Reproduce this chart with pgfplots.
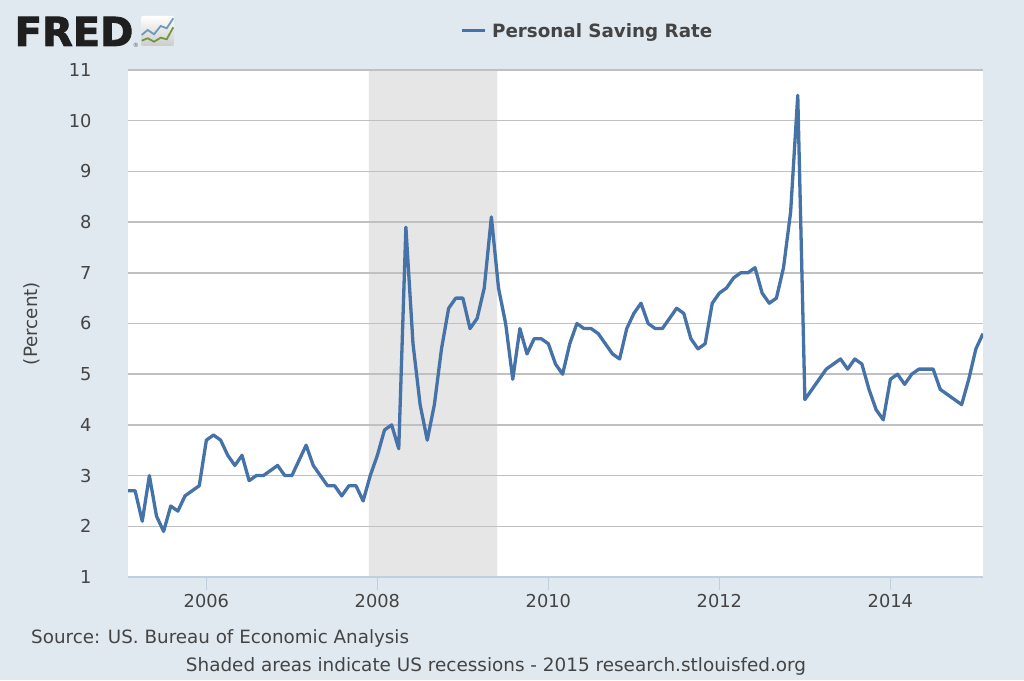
\documentclass[border=0pt]{standalone}
\usepackage{pgfplots}
\pgfplotsset{compat=1.18}
\usepackage{pgfplotstable}
\usepackage{fontspec}
\setmainfont{DejaVu Sans}
\newfontfamily\fredfont[FakeBold=2.2]{DejaVu Sans Bold}
\definecolor{bgc}{HTML}{E1E9F0}
\definecolor{linec}{HTML}{4572A7}
\definecolor{gridc}{HTML}{C0C0C0}
\definecolor{axisc}{HTML}{C0D0E0}
\definecolor{shadec}{HTML}{E6E6E6}
\definecolor{textc}{HTML}{444444}
\definecolor{logob}{HTML}{6F9BB8}
\definecolor{logog}{HTML}{6E9A3C}
\pgfplotstableread{
i v
0 2.7
1 2.7
2 2.1
3 3.0
4 2.2
5 1.9
6 2.4
7 2.3
8 2.6
9 2.7
10 2.8
11 3.7
12 3.8
13 3.7
14 3.4
15 3.2
16 3.4
17 2.9
18 3.0
19 3.0
20 3.1
21 3.2
22 3.0
23 3.0
24 3.3
25 3.6
26 3.2
27 3.0
28 2.8
29 2.8
30 2.6
31 2.8
32 2.8
33 2.5
34 3.0
35 3.4
36 3.9
37 4.0
38 3.53
39 7.9
40 5.6
41 4.4
42 3.7
43 4.4
44 5.5
45 6.3
46 6.5
47 6.5
48 5.9
49 6.1
50 6.7
51 8.1
52 6.7
53 6.0
54 4.9
55 5.9
56 5.4
57 5.7
58 5.7
59 5.6
60 5.2
61 5.0
62 5.6
63 6.0
64 5.9
65 5.9
66 5.8
67 5.6
68 5.4
69 5.3
70 5.9
71 6.2
72 6.4
73 6.0
74 5.9
75 5.9
76 6.1
77 6.3
78 6.2
79 5.7
80 5.5
81 5.6
82 6.4
83 6.6
84 6.7
85 6.9
86 7.0
87 7.0
88 7.1
89 6.6
90 6.4
91 6.5
92 7.1
93 8.2
94 10.5
95 4.5
96 4.7
97 4.9
98 5.1
99 5.2
100 5.3
101 5.1
102 5.3
103 5.2
104 4.7
105 4.3
106 4.1
107 4.9
108 5.0
109 4.8
110 5.0
111 5.1
112 5.1
113 5.1
114 4.7
115 4.6
116 4.5
117 4.4
118 4.9
119 5.5
120 5.8
}\saving
\begin{document}
\begin{tikzpicture}[x=1pt,y=1pt]
\fill[bgc] (0,0) rectangle (1024,680);
% white plot band and recession shade
\begin{axis}[
  at={(128pt,103pt)}, anchor=south west,
  scale only axis, width=855pt, height=507pt,
  xmin=0, xmax=120, ymin=1, ymax=11,
  axis background/.style={fill=white},
  axis line style={draw=none},
  xtick=\empty, ytick=\empty,
]
\addplot[fill=shadec, draw=none] coordinates {(33.8,1)(51.8,1)(51.8,11)(33.8,11)} \closedcycle;
\end{axis}
\begin{axis}[
  at={(128pt,103pt)}, anchor=south west,
  scale only axis, width=855pt, height=507pt,
  xmin=0, xmax=120, ymin=1, ymax=11,
  axis line style={draw=none},
  axis x line*=bottom,
  axis y line*=left,
  x axis line style={draw=axisc, line width=2pt, -},
  y axis line style={draw=none, -},
  xtick={11,35,59,83,107},
  xticklabels={2006,2008,2010,2012,2014},
  ytick={1,2,...,11},
  ymajorgrids,
  grid style={draw=gridc, line width=1.6pt},
  major tick length=13pt,
  tick align=outside,
  xtick style={draw=axisc, line width=1pt},
  ytick style={draw=none},
  tick label style={font=\fontsize{17.8}{20}\selectfont, text=textc},
  xticklabel style={yshift=-1pt},
  yticklabel style={xshift=-20pt},
  /pgf/number format/assume math mode=true,
  /pgf/number format/1000 sep={},
  ylabel={(Percent)},
  every axis y label/.style={at={(axis description cs:-0.113,0.5)},rotate=90,anchor=center,font=\fontsize{18.3}{20}\selectfont,text=textc},
  legend style={at={(axis description cs:0.389,1.077)},anchor=west,draw=none,fill=none,
    font=\fontsize{18.3}{20}\selectfont\bfseries,text=textc,inner sep=0pt,outer sep=0pt},
  legend image code/.code={\draw[linec,line width=3pt] (0pt,0pt) -- (23pt,0pt);},
]
\addplot[linec, line width=3.3pt, line join=round] table[x=i,y=v] {\saving};
\addlegendentry{\hspace*{3.5pt}Personal Saving Rate}
\end{axis}
% FRED logo
\node[anchor=base west,inner sep=0pt,text=black!88,font=\fontsize{40}{40}\selectfont\fredfont] at (14.5,634) {FRED};
\node[anchor=center,inner sep=0pt,text=gray,font=\fontsize{6}{6}\selectfont\bfseries] at (135.8,635) {®};
\shade[top color=white,bottom color=black!20,rounded corners=2pt] (141,634) rectangle (174,664);
\draw[logob,line width=1.8pt] (141.7,645) -- (147.7,650) -- (154,645.7) -- (160.7,654) -- (166.7,651.7) -- (173.3,661.7);
\draw[logog,line width=1.8pt] (141.7,639.3) -- (147.7,641.7) -- (154,638.3) -- (160.7,642.3) -- (166.7,640.7) -- (173.3,652.7);
% footer
\node[anchor=base west,inner sep=0pt,text=textc,font=\fontsize{18.3}{20}\selectfont] at (31,37) {Source: US. Bureau of Economic Analysis};
\node[anchor=base,inner sep=0pt,text=textc,font=\fontsize{18.4}{20}\selectfont] at (496,9) {Shaded areas indicate US recessions - 2015 research.stlouisfed.org};
\end{tikzpicture}
\end{document}
